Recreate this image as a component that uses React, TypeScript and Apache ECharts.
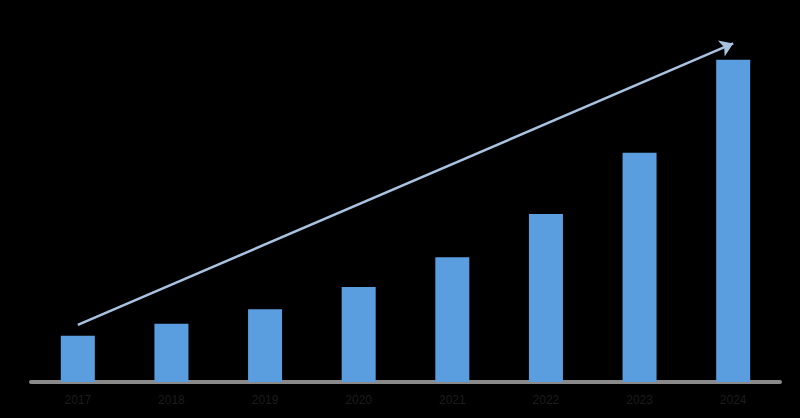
import React, { useEffect, useRef } from "react";
import * as echarts from "echarts";

const categories = ["2017", "2018", "2019", "2020", "2021", "2022", "2023", "2024"];
const values = [13.5, 17, 21.3, 27.8, 36.5, 49.1, 67, 94.2];
const trendStart = [0, 16.7];
const trendEnd = [7, 99];

export default function App() {
  const ref = useRef<HTMLDivElement>(null);
  useEffect(() => {
    document.body.style.margin = "0";
    document.body.style.background = "#000";
    const chart = echarts.init(ref.current!, null, { renderer: "svg" });
    chart.setOption({
      animation: false,
      backgroundColor: "#000000",
      grid: { left: 31, right: 20, top: 40, bottom: 36 },
      xAxis: {
        type: "category",
        data: categories,
        axisLine: { lineStyle: { color: "#8a8a8a", width: 4 } },
        axisTick: { show: false },
        axisLabel: { color: "#1c1c1c", fontSize: 12, margin: 12, fontFamily: "Arial, Liberation Sans" },
      },
      yAxis: {
        type: "value",
        min: 0,
        max: 100,
        show: false,
        splitLine: { show: false },
      },
      series: [
        {
          type: "bar",
          data: values,
          barWidth: 34,
          itemStyle: { color: "#5b9ee0" },
          markLine: {
            silent: true,
            symbol: ["none", "arrow"],
            symbolSize: 13,
            label: { show: false },
            lineStyle: { color: "#a8c2e0", width: 2.5, type: "solid" },
            data: [[{ coord: trendStart }, { coord: trendEnd }]],
          },
        },
      ],
    });
    return () => chart.dispose();
  }, []);
  return <div ref={ref} style={{ width: 800, height: 418 }} />;
}
